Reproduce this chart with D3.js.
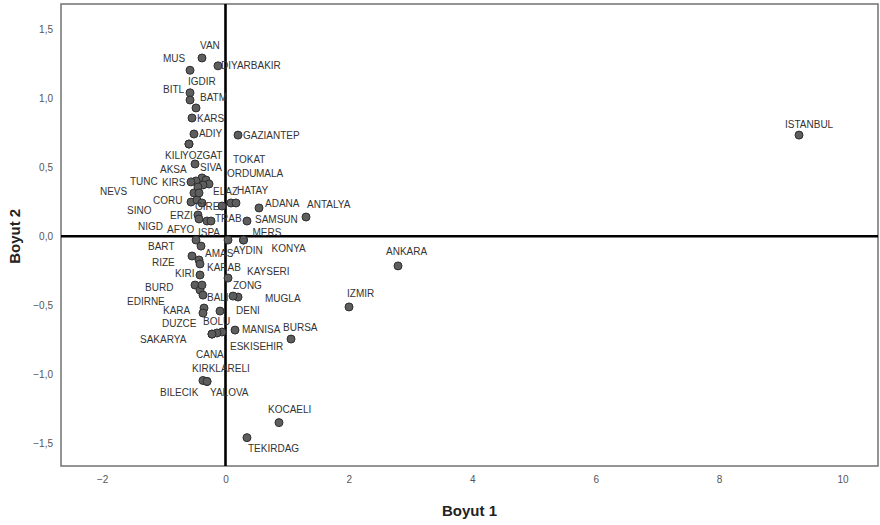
<!DOCTYPE html>
<html>
<head>
<meta charset="utf-8">
<script src="https://cdn.jsdelivr.net/npm/d3@7/dist/d3.min.js"></script>
<style>
  body { margin: 0; background: #fff; }
  svg { font-family: "Liberation Sans", Arial, sans-serif; }
</style>
</head>
<body>
<svg id="chart" width="880" height="525"></svg>
<script>
// province labels (as shown), dimension 1 and dimension 2 scores
var names = ["VAN","MUS","DIYARBAKIR","IGDIR","BITL","BATM","KARS","ADIY","GAZIANTEP","ISTANBUL",
  "KILI","YOZGAT","AKSA","SIVA","TOKAT","ORDU","MALA","KIRS","TUNC","NEVS",
  "ELAZ","HATAY","CORU","GIRE","ADANA","ANTALYA","SINO","ERZI","NIGD","AFYO",
  "TRAB","ISPA","SAMSUN","MERS","KONYA","BART","AMAS","AYDIN","RIZE","KARAB",
  "KAYSERI","KIRI","ZONG","BURD","EDIRNE","BALI","MUGLA","KARA","DUZCE","DENI",
  "BOLU","MANISA","BURSA","SAKARYA","ESKISEHIR","CANA","KIRKLARELI","BILECIK","YALOVA","KOCAELI",
  "TEKIRDAG","IZMIR","ANKARA","AGRI","MARDIN","BING","SIIR"];
var dim1 = [-0.381,-0.575,-0.122,-0.575,-0.575,-0.478,-0.543,-0.511,0.203,9.295,
  -0.592,-0.592,-0.494,-0.381,-0.316,-0.267,-0.365,-0.478,-0.559,-0.511,
  0.089,0.170,-0.559,-0.057,0.543,1.305,-0.462,-0.381,-0.446,-0.429,
  -0.300,-0.235,0.348,0.292,0.292,-0.478,-0.397,0.041,-0.543,-0.429,
  -0.413,-0.413,0.041,-0.494,-0.413,-0.365,0.203,-0.348,-0.365,-0.089,
  -0.057,0.154,1.062,-0.219,-0.138,-0.219,-0.300,-0.365,-0.300,0.867,
  0.348,2.002,2.796,-0.446,-0.429,-0.381,0.122];
var dim2 = [1.295,1.206,1.238,1.042,0.990,0.932,0.859,0.743,0.735,0.735,
  0.670,0.670,0.525,0.424,0.409,0.380,0.373,0.402,0.395,0.315,
  0.242,0.242,0.249,0.220,0.206,0.140,0.264,0.242,0.155,0.126,
  0.111,0.111,0.111,-0.027,-0.027,-0.027,-0.071,-0.027,-0.143,-0.172,
  -0.201,-0.281,-0.303,-0.354,-0.390,-0.427,-0.441,-0.521,-0.557,-0.543,
  -0.695,-0.681,-0.746,-0.710,-0.702,-0.710,-1.054,-1.047,-1.054,-1.353,
  -1.462,-0.513,-0.215,0.358,0.315,-0.354,-0.434];
var xTicks = [-2, 0, 2, 4, 6, 8, 10];
var yTicks = [1.5, 1.0, 0.5, 0.0, -0.5, -1.0, -1.5];

// where each label sits relative to its point (px: start x, middle y); unlisted = hidden
var labelPos = {
  VAN:[-2,-12], MUS:[-27,-12], DIYARBAKIR:[3,0], IGDIR:[-2,-11], BITL:[-27,-10], BATM:[4,-10],
  KARS:[5,0], ADIY:[5,0], GAZIANTEP:[5,0], ISTANBUL:[-14,-11], KILI:[-24,11], YOZGAT:[-7,11],
  AKSA:[-35,5], SIVA:[-2,-10], TOKAT:[27,-20], ORDU:[18,-10], MALA:[53,-11], KIRS:[-34,2],
  TUNC:[-61,0], NEVS:[-94,-1], ELAZ:[-18,-11], HATAY:[1,-12], CORU:[-38,-2], GIRE:[-27,0],
  ADANA:[6,-4], ANTALYA:[1,-13], SINO:[-70,11], ERZI:[-32,13], NIGD:[-60,12], AFYO:[-32,11],
  TRAB:[8,-3], ISPA:[-13,11], SAMSUN:[8,-2], MERS:[9,-8], KONYA:[28,8], BART:[-48,6],
  AMAS:[4,7], AYDIN:[5,10], RIZE:[-40,6], KARAB:[8,8], KAYSERI:[47,8], KIRI:[-25,-2],
  ZONG:[5,7], BURD:[-50,2], EDIRNE:[-73,11], BALI:[4,2], MUGLA:[27,1], KARA:[-41,2],
  DUZCE:[-41,10], DENI:[16,-1], BOLU:[-19,-11], MANISA:[7,-1], BURSA:[-8,-12], SAKARYA:[-72,5],
  ESKISEHIR:[13,14], CANA:[-16,20], KIRKLARELI:[-15,-13], BILECIK:[-43,12], YALOVA:[3,11.5],
  KOCAELI:[-11,-13], TEKIRDAG:[1,11], IZMIR:[-2,-13], ANKARA:[-12,-14]
};

var points = names.map(function(n, i){ return {name: n, x: dim1[i], y: dim2[i]}; });

var svg = d3.select("#chart");
var margin = {left: 61, right: 2, top: 4, bottom: 59};
var W = 880, H = 525;

var x = d3.scaleLinear().domain([-2.666, 10.575]).range([margin.left, W - margin.right]);
var y = d3.scaleLinear().domain([1.687, -1.668]).range([margin.top, H - margin.bottom]);

var fmt = function(d){ return d3.format(".1f")(d).replace(".", ","); };

// axes
var xAxis = svg.append("g")
    .attr("transform", "translate(0," + (H - margin.bottom) + ")")
    .call(d3.axisBottom(x).tickValues(xTicks).tickSize(0).tickPadding(10).tickFormat(d3.format("d")));
var yAxis = svg.append("g")
    .attr("transform", "translate(" + margin.left + ",0)")
    .call(d3.axisLeft(y).tickValues(yTicks).tickSize(0).tickPadding(8).tickFormat(fmt));
[xAxis, yAxis].forEach(function(a){
  a.select(".domain").remove();
  a.selectAll("text").style("font-size", "10px").style("fill", "#555")
    .style("font-family", "'Liberation Sans', Arial, sans-serif");
});

// frame
svg.append("rect")
    .attr("x", margin.left).attr("y", margin.top)
    .attr("width", W - margin.left - margin.right)
    .attr("height", H - margin.top - margin.bottom)
    .style("fill", "none").style("stroke", "#7a7a7a").style("stroke-width", 1.6);

// reference lines at zero
svg.append("line")
    .attr("x1", x(0)).attr("x2", x(0)).attr("y1", margin.top).attr("y2", H - margin.bottom)
    .style("stroke", "#000").style("stroke-width", 2.6);
svg.append("line")
    .attr("x1", margin.left).attr("x2", W - margin.right).attr("y1", y(0)).attr("y2", y(0))
    .style("stroke", "#000").style("stroke-width", 2.6);

// points
svg.append("g").selectAll("circle")
    .data(points)
    .enter()
    .append("circle")
    .attr("cx", function(d){ return x(d.x); })
    .attr("cy", function(d){ return y(d.y); })
    .attr("r", 4)
    .style("fill", "#5e5e5e")
    .style("stroke", "#2e2e2e")
    .style("stroke-width", 1);

// labels
svg.append("g").selectAll("text")
    .data(points.filter(function(d){ return labelPos[d.name]; }))
    .enter()
    .append("text")
    .attr("x", function(d){ return x(d.x) + labelPos[d.name][0]; })
    .attr("y", function(d){ return y(d.y) + labelPos[d.name][1]; })
    .attr("dy", "0.35em")
    .style("font-size", "10px")
    .style("fill", "#333")
    .text(function(d){ return d.name; });

// axis titles
svg.append("text")
    .attr("x", (margin.left + W - margin.right) / 2).attr("y", 511)
    .attr("dy", "0.35em").attr("text-anchor", "middle")
    .style("font-size", "15px").style("font-weight", "bold").style("fill", "#222")
    .text("Boyut 1");
svg.append("text")
    .attr("transform", "translate(15," + y(0) + ") rotate(-90)")
    .attr("dy", "0.35em").attr("text-anchor", "middle")
    .style("font-size", "15px").style("font-weight", "bold").style("fill", "#222")
    .text("Boyut 2");
</script>
</body>
</html>
